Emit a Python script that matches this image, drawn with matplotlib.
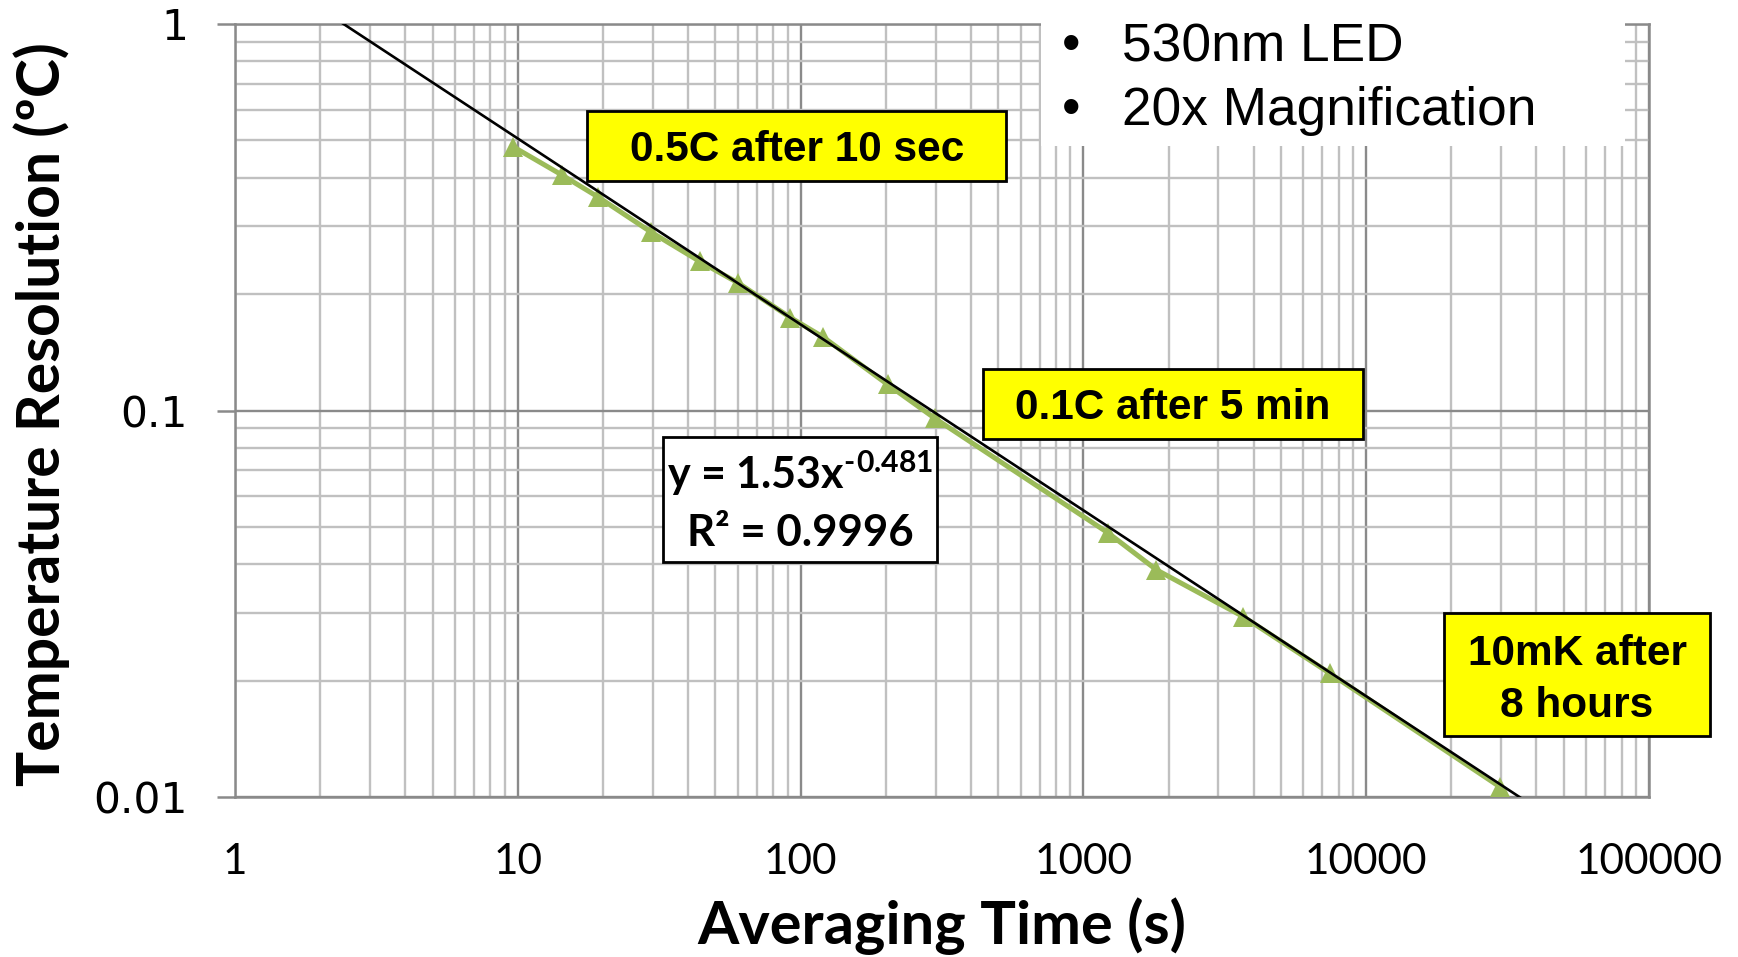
import matplotlib
matplotlib.use("Agg")
import matplotlib.pyplot as plt
import numpy as np
from matplotlib.patches import Rectangle
from matplotlib.ticker import FixedLocator, FixedFormatter, LogLocator, NullFormatter

# Measured temperature resolution versus averaging time
avg_time_s = [9.6, 14.3, 19.2, 29.7, 44, 60, 92, 120, 203, 298, 1224, 1813, 3670, 7430, 29650]
resolution_c = [0.482, 0.407, 0.357, 0.289, 0.243, 0.214, 0.174, 0.155, 0.1168, 0.0955,
                0.0482, 0.0387, 0.0293, 0.0209, 0.01063]

# Power-law trendline y = a * x^b
fit_coeff = 1.53
fit_exp = -0.481
fit_r2 = 0.9996
fit_span = [2.4, 35000]

x_ticks = [1, 10, 100, 1000, 10000, 100000]
x_tick_labels = ["1", "10", "100", "1000", "10000", "100000"]
y_ticks = [0.01, 0.1, 1]
y_tick_labels = ["0.01", "0.1", "1"]

notes = ["530nm LED", "20x Magnification"]

W, H = 1738, 957
plt.rcParams["mathtext.fontset"] = "custom"
plt.rcParams["mathtext.rm"] = "Lato:bold"
plt.rcParams["mathtext.it"] = "Lato:bold"
plt.rcParams["mathtext.bf"] = "Lato:bold"


def fx(px):
    return px / W


def fy(py):
    return 1 - py / H


fig = plt.figure(figsize=(W / 100, H / 100), dpi=100)
ax = fig.add_axes([fx(235), fy(797), (1649 - 235) / W, (797 - 24) / H])

ax.set_xscale("log")
ax.set_yscale("log")
ax.set_xlim(1, 1e5)
ax.set_ylim(0.01, 1)

major_c = "#8a8a8a"
minor_c = "#c0c0c0"
ax.xaxis.set_major_locator(FixedLocator(x_ticks))
ax.xaxis.set_major_formatter(FixedFormatter(x_tick_labels))
ax.yaxis.set_major_locator(FixedLocator(y_ticks))
ax.yaxis.set_major_formatter(FixedFormatter(y_tick_labels))
ax.xaxis.set_minor_locator(LogLocator(base=10, subs=np.arange(2, 10)))
ax.yaxis.set_minor_locator(LogLocator(base=10, subs=np.arange(2, 10)))
ax.xaxis.set_minor_formatter(NullFormatter())
ax.yaxis.set_minor_formatter(NullFormatter())

ax.grid(which="minor", color=minor_c, linewidth=1.7, zorder=0)
ax.grid(which="major", color=major_c, linewidth=1.7, zorder=0)
ax.set_axisbelow(True)
for s in ax.spines.values():
    s.set_color(major_c)
    s.set_linewidth(1.8)

ax.tick_params(axis="x", which="both", length=0, pad=33, labelsize=30.5)
ax.tick_params(axis="y", which="major", length=13, width=1.8, color=major_c, pad=21, labelsize=30.5)
ax.tick_params(axis="y", which="minor", length=0)
for lab in ax.get_xticklabels():
    lab.set_fontfamily("Lato")
for lab in ax.get_yticklabels():
    lab.set_fontfamily("DejaVu Sans")

# Data series and trendline
ax.plot(avg_time_s, resolution_c, color="#9bbb59", linewidth=3.6, marker="^",
        markersize=14, markeredgewidth=0, zorder=3)
xs = np.logspace(np.log10(fit_span[0]), np.log10(fit_span[1]), 300)
ax.plot(xs, fit_coeff * xs ** fit_exp, color="black", linewidth=1.9, zorder=4)

# Axis titles
fig.text(fx(942), fy(926), "Averaging Time (s)", fontfamily="Lato",
         fontweight="bold", fontsize=42.8, ha="center", va="center")
fig.text(fx(42), fy(414), "Temperature Resolution (ºC)", fontfamily="Lato",
         fontweight="bold", fontsize=42.3, ha="center", va="center", rotation=90)


def boxed(x0, y0, x1, y1, face):
    fig.patches.append(Rectangle((fx(x0), fy(y1)), (x1 - x0) / W, (y1 - y0) / H,
                                 transform=fig.transFigure, facecolor=face,
                                 edgecolor="black", linewidth=2, zorder=5))


# Conditions block
fig.patches.append(Rectangle((fx(1041), fy(146)), (1625 - 1041) / W, 146 / H,
                             transform=fig.transFigure, facecolor="white",
                             edgecolor="none", zorder=5))
for i, note in enumerate(notes):
    yy = fy(47 + 64 * i)
    fig.text(fx(1071), yy, "•", fontfamily="Liberation Sans", fontsize=38,
             ha="center", va="center", zorder=6)
    fig.text(fx(1122), yy, note, fontfamily="Liberation Sans", fontsize=38.3,
             ha="left", va="center", zorder=6)

# Callouts
yellow = "#ffff00"
boxed(587, 111, 1006, 181, yellow)
fig.text(fx(797), fy(150), "0.5C after 10 sec", fontfamily="Liberation Sans",
         fontweight="bold", fontsize=30.5, ha="center", va="center", zorder=6)
boxed(983, 369, 1363, 439, yellow)
fig.text(fx(1173), fy(408), "0.1C after 5 min", fontfamily="Liberation Sans",
         fontweight="bold", fontsize=30.5, ha="center", va="center", zorder=6)
boxed(1444, 613, 1710, 736, yellow)
fig.text(fx(1577), fy(654), "10mK after", fontfamily="Liberation Sans",
         fontweight="bold", fontsize=30.5, ha="center", va="center", zorder=6)
fig.text(fx(1577), fy(706), "8 hours", fontfamily="Liberation Sans",
         fontweight="bold", fontsize=30.5, ha="center", va="center", zorder=6)

# Trendline equation
boxed(663, 437, 937, 562, "white")
fig.text(fx(800), fy(473), f"y = {fit_coeff:.2f}x$^{{{fit_exp:.3f}}}$".replace("x$^{-", "x$^{\\text{-}}$$^{"),
         fontfamily="Lato", fontweight="bold", fontsize=31, ha="center", va="center", zorder=6)
fig.text(fx(800), fy(533), f"R² = {fit_r2:.4f}", fontfamily="Lato", fontweight="bold",
         fontsize=31.5, ha="center", va="center", zorder=6)

fig.savefig("out.png", dpi=100)
